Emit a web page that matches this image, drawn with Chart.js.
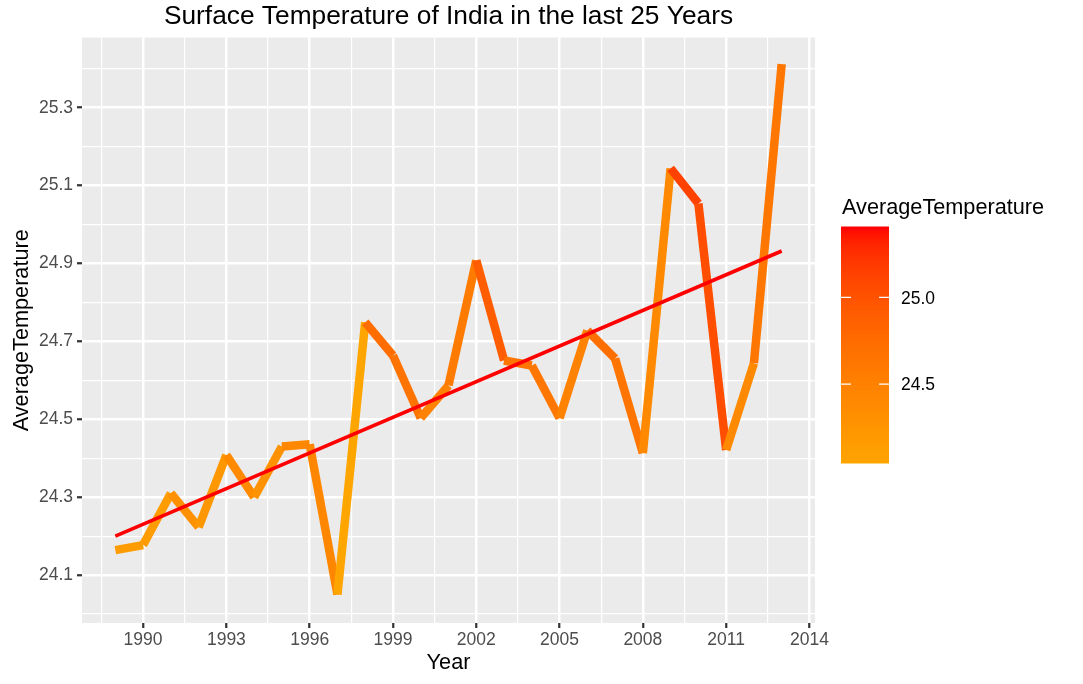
<!DOCTYPE html>
<html>
<head>
<meta charset="utf-8">
<script src="https://cdn.jsdelivr.net/npm/chart.js@4.4.1/dist/chart.umd.min.js"></script>
<style>
html,body{margin:0;padding:0;background:#ffffff;}
#wrap{width:1083px;height:684px;position:relative;}
canvas{display:block;}
</style>
</head>
<body>
<div id="wrap"><canvas id="c" width="1083" height="684"></canvas></div>
<script>
// ---- data ----
const years = [1989,1990,1991,1992,1993,1994,1995,1996,1997,1998,1999,2000,2001,2002,2003,2004,2005,2006,2007,2008,2009,2010,2011,2012,2013];
const avgTemp = [24.164,24.177,24.310,24.223,24.408,24.300,24.430,24.436,24.050,24.749,24.664,24.503,24.587,24.908,24.651,24.638,24.503,24.728,24.656,24.413,25.144,25.054,24.421,24.644,25.412];
const trendYears = [1989, 2013];
const trendTemp = [24.20, 24.932];
const xTickLabels = [1990,1993,1996,1999,2002,2005,2008,2011,2014];
const xMinorTicks = [1988.5,1991.5,1994.5,1997.5,2000.5,2003.5,2006.5,2009.5,2012.5];
const yTickLabels = [24.1,24.3,24.5,24.7,24.9,25.1,25.3];
const yMinorTicks = [24.0,24.2,24.4,24.6,24.8,25.0,25.2,25.4];
const legendBreaks = [24.5, 25.0];
const legendTitle = 'AverageTemperature';
const chartTitle = 'Surface Temperature of India in the last 25 Years';
const xTitle = 'Year';
const yTitle = 'AverageTemperature';

// ---- colour scale (orange -> red, interpolated in Lab like ggplot) ----
const LOW = [255,165,0], HIGH = [255,0,0];
function s2l(c){c/=255;return c<=0.04045?c/12.92:Math.pow((c+0.055)/1.055,2.4);}
function l2s(c){const v=c<=0.0031308?12.92*c:1.055*Math.pow(c,1/2.4)-0.055;return Math.round(Math.min(1,Math.max(0,v))*255);}
const D=6/29;
function f(t){return t>D*D*D?Math.cbrt(t):t/(3*D*D)+4/29;}
function fi(t){return t>D?t*t*t:3*D*D*(t-4/29);}
function toLab(rgb){
  const R=s2l(rgb[0]),G=s2l(rgb[1]),B=s2l(rgb[2]);
  const X=(0.4124*R+0.3576*G+0.1805*B)/0.95047, Y=0.2126*R+0.7152*G+0.0722*B, Z=(0.0193*R+0.1192*G+0.9505*B)/1.08883;
  return [116*f(Y)-16, 500*(f(X)-f(Y)), 200*(f(Y)-f(Z))];
}
function fromLab(lab){
  const fy=(lab[0]+16)/116, fx=fy+lab[1]/500, fz=fy-lab[2]/200;
  const X=fi(fx)*0.95047, Y=fi(fy), Z=fi(fz)*1.08883;
  const R=3.2406*X-1.5372*Y-0.4986*Z, G=-0.9689*X+1.8758*Y+0.0415*Z, B=0.0557*X-0.2040*Y+1.0570*Z;
  return 'rgb('+l2s(R)+','+l2s(G)+','+l2s(B)+')';
}
const labLow=toLab(LOW), labHigh=toLab(HIGH);
const cMin=Math.min(...avgTemp), cMax=Math.max(...avgTemp);
function colourFor(v){
  let t=(v-cMin)/(cMax-cMin); t=Math.max(0,Math.min(1,t));
  return fromLab([0,1,2].map(i=>labLow[i]+(labHigh[i]-labLow[i])*t));
}

const FONT='"Liberation Sans", Arial, sans-serif';
const isMajor=(arr,v)=>arr.some(a=>Math.abs(a-v)<1e-6);

const bgPlugin={
  id:'panelBg',
  beforeDraw(chart){
    const {ctx,chartArea:a}=chart;
    ctx.save();ctx.fillStyle='#EBEBEB';ctx.fillRect(a.left,a.top,a.right-a.left,a.bottom-a.top);ctx.restore();
  }
};

const colourbarPlugin={
  id:'colourbar',
  afterDraw(chart){
    const ctx=chart.ctx;
    const x0=841, x1=889, yTop=227, yBot=463;
    ctx.save();
    const nbin=300, h=(yBot-yTop)/nbin;
    for(let i=0;i<nbin;i++){
      const v=cMin+(cMax-cMin)*(i+0.5)/nbin;
      ctx.fillStyle=colourFor(v);
      ctx.fillRect(x0, yBot-(i+1)*h-0.5, x1-x0, h+1);
    }
    ctx.strokeStyle='#FFFFFF';ctx.lineWidth=1.2;
    ctx.fillStyle='#000000';ctx.font='17.5px '+FONT;ctx.textAlign='left';ctx.textBaseline='alphabetic';
    legendBreaks.forEach(b=>{
      const y=yBot-(b-cMin)/(cMax-cMin)*(yBot-yTop)-1;
      ctx.beginPath();ctx.moveTo(x0,y);ctx.lineTo(x0+10,y);ctx.moveTo(x1-10,y);ctx.lineTo(x1,y);ctx.stroke();
      ctx.fillText(b.toFixed(1), 901, y+6.3);
    });
    ctx.font='21.7px '+FONT;ctx.fillText(legendTitle, 842, 213.5);
    ctx.restore();
  }
};

new Chart(document.getElementById('c'),{
  type:'line',
  data:{
    datasets:[
      {
        label:'trend',
        data:trendYears.map((y,i)=>({x:y,y:trendTemp[i]})),
        borderColor:'#FF0000',
        borderWidth:3.6,
        pointRadius:0,
        tension:0,
        order:0
      },
      {
        label:'AverageTemperature',
        data:years.map((y,i)=>({x:y,y:avgTemp[i]})),
        borderColor:colourFor(avgTemp[0]),
        borderWidth:8.5,
        borderCapStyle:'butt',
        borderJoinStyle:'round',
        pointRadius:0,
        tension:0,
        order:1,
        segment:{borderColor:ctx=>colourFor(ctx.p0.parsed.y)}
      }
    ]
  },
  options:{
    responsive:false,
    animation:false,
    devicePixelRatio:1,
    layout:{padding:{left:0,right:268,top:0,bottom:0}},
    plugins:{
      legend:{display:false},
      tooltip:{enabled:false},
      title:{
        display:true,
        text:chartTitle,
        fullSize:false,
        color:'#000000',
        font:{family:FONT,size:26.3,weight:'normal'},
        padding:{top:1,bottom:5}
      }
    },
    scales:{
      x:{
        type:'linear',
        min:1987.8,
        max:2014.2,
        afterBuildTicks(scale){
          scale.ticks=[...xMinorTicks,...xTickLabels].sort((a,b)=>a-b).map(v=>({value:v}));
        },
        afterFit(scale){scale.height=61;},
        ticks:{
          autoSkip:false,maxRotation:0,minRotation:0,padding:1.5,
          color:'#4D4D4D',font:{family:FONT,size:17.5},
          callback:(v)=>isMajor(xTickLabels,v)?String(Math.round(v)):''
        },
        grid:{
          color:'#FFFFFF',
          lineWidth:ctx=>isMajor(xTickLabels,ctx.tick.value)?2.5:1.2,
          tickColor:ctx=>isMajor(xTickLabels,ctx.tick.value)?'#333333':'rgba(0,0,0,0)',
          tickLength:5,
          tickWidth:2.2
        },
        border:{display:false},
        title:{display:true,text:xTitle,color:'#000000',font:{family:FONT,size:21.7},padding:{top:0,bottom:8}}
      },
      y:{
        type:'linear',
        min:23.977,
        max:25.48,
        afterBuildTicks(scale){
          scale.ticks=[...yMinorTicks,...yTickLabels].sort((a,b)=>a-b).map(v=>({value:v}));
        },
        afterFit(scale){scale.width=82;},
        ticks:{
          autoSkip:false,padding:4,
          color:'#4D4D4D',font:{family:FONT,size:17.5},
          callback:(v)=>isMajor(yTickLabels,v)?v.toFixed(1):''
        },
        grid:{
          color:'#FFFFFF',
          lineWidth:ctx=>isMajor(yTickLabels,ctx.tick.value)?2.5:1.2,
          tickColor:ctx=>isMajor(yTickLabels,ctx.tick.value)?'#333333':'rgba(0,0,0,0)',
          tickLength:5,
          tickWidth:2.2
        },
        border:{display:false},
        title:{display:true,text:yTitle,color:'#000000',font:{family:FONT,size:21.7},padding:{top:9,bottom:0}}
      }
    }
  },
  plugins:[bgPlugin,colourbarPlugin]
});
</script>
</body>
</html>
